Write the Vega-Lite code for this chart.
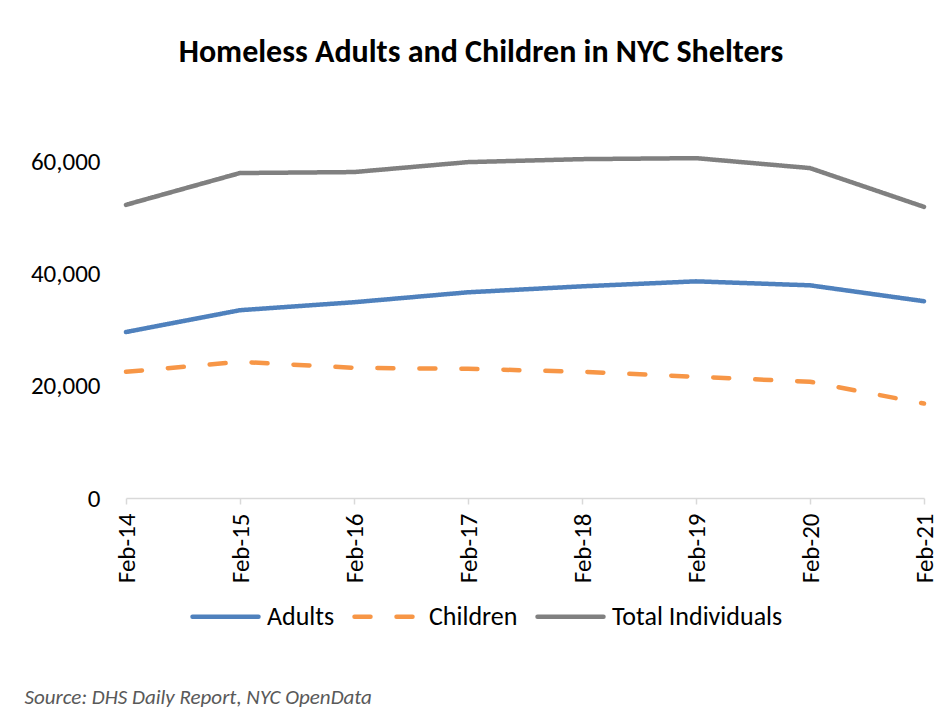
{
  "$schema": "https://vega.github.io/schema/vega-lite/v6.json",
  "width": 798,
  "height": 393,
  "autosize": {"type": "none"},
  "padding": {"left": 126, "top": 105, "right": 18, "bottom": 215},
  "background": "white",
  "title": {
    "text": "Homeless Adults and Children in NYC Shelters",
    "font": "Carlito, Lato",
    "fontSize": 32,
    "fontWeight": "bold",
    "color": "#000000",
    "anchor": "middle",
    "baseline": "alphabetic",
    "dx": -44,
    "offset": 11
  },
  "config": {
    "view": {"stroke": null},
    "font": "Carlito, Lato"
  },
  "data": {
    "values": [
      {"month": "Feb-14", "series": "Adults", "value": 29560},
      {"month": "Feb-15", "series": "Adults", "value": 33450},
      {"month": "Feb-16", "series": "Adults", "value": 34870},
      {"month": "Feb-17", "series": "Adults", "value": 36640},
      {"month": "Feb-18", "series": "Adults", "value": 37700},
      {"month": "Feb-19", "series": "Adults", "value": 38590},
      {"month": "Feb-20", "series": "Adults", "value": 37880},
      {"month": "Feb-21", "series": "Adults", "value": 35050},
      {"month": "Feb-14", "series": "Children", "value": 22480},
      {"month": "Feb-15", "series": "Children", "value": 24250},
      {"month": "Feb-16", "series": "Children", "value": 23190},
      {"month": "Feb-17", "series": "Children", "value": 23010},
      {"month": "Feb-18", "series": "Children", "value": 22480},
      {"month": "Feb-19", "series": "Children", "value": 21590},
      {"month": "Feb-20", "series": "Children", "value": 20710},
      {"month": "Feb-21", "series": "Children", "value": 16820},
      {"month": "Feb-14", "series": "Total Individuals", "value": 52215},
      {"month": "Feb-15", "series": "Total Individuals", "value": 57880},
      {"month": "Feb-16", "series": "Total Individuals", "value": 58056},
      {"month": "Feb-17", "series": "Total Individuals", "value": 59826},
      {"month": "Feb-18", "series": "Total Individuals", "value": 60357},
      {"month": "Feb-19", "series": "Total Individuals", "value": 60534},
      {"month": "Feb-20", "series": "Total Individuals", "value": 58764},
      {"month": "Feb-21", "series": "Total Individuals", "value": 51861}
    ]
  },
  "mark": {"type": "line", "strokeWidth": 4.5, "strokeCap": "round", "strokeJoin": "round"},
  "encoding": {
    "x": {
      "field": "month",
      "type": "ordinal",
      "sort": null,
      "scale": {"type": "point", "padding": 0},
      "axis": {
        "title": "Source: DHS Daily Report, NYC OpenData",
        "titleFont": "Carlito, Lato",
        "titleFontStyle": "italic",
        "titleFontWeight": "normal",
        "titleFontSize": 21,
        "titleColor": "#595959",
        "titleAlign": "left",
        "titleBaseline": "middle",
        "titleX": -102,
        "titleY": 199,
        "labelAngle": -90,
        "labelFont": "Carlito, Lato",
        "labelFontSize": 25,
        "labelColor": "#000000",
        "labelPadding": 9,
        "domainColor": "#D9D9D9",
        "domainWidth": 1.5,
        "tickColor": "#D9D9D9",
        "tickWidth": 1.5,
        "tickSize": 6,
        "grid": false
      }
    },
    "y": {
      "field": "value",
      "type": "quantitative",
      "scale": {"domain": [0, 70000], "nice": false},
      "axis": {
        "title": null,
        "values": [0, 20000, 40000, 60000],
        "format": ",.0f",
        "labelFont": "Carlito, Lato",
        "labelFontSize": 25,
        "labelColor": "#000000",
        "labelPadding": 26,
        "domain": false,
        "ticks": false,
        "grid": false
      }
    },
    "color": {
      "field": "series",
      "type": "nominal",
      "scale": {
        "domain": ["Adults", "Children", "Total Individuals"],
        "range": ["#4F81BD", "#F79646", "#808080"]
      },
      "legend": {
        "title": null,
        "orient": "none",
        "direction": "horizontal",
        "legendX": 64,
        "legendY": 476,
        "symbolType": "stroke",
        "symbolSize": 4356,
        "symbolStrokeWidth": 4.5,
        "labelFont": "Carlito, Lato",
        "labelFontSize": 26,
        "labelColor": "#000000",
        "labelLimit": 400,
        "labelOffset": 6,
        "columnPadding": 10,
        "encode": {"symbols": {"update": {"strokeCap": {"value": "round"}}}}
      }
    },
    "strokeDash": {
      "field": "series",
      "type": "nominal",
      "scale": {
        "domain": ["Adults", "Children", "Total Individuals"],
        "range": [[1, 0], [16, 26], [1, 0]]
      },
      "legend": null
    }
  }
}
